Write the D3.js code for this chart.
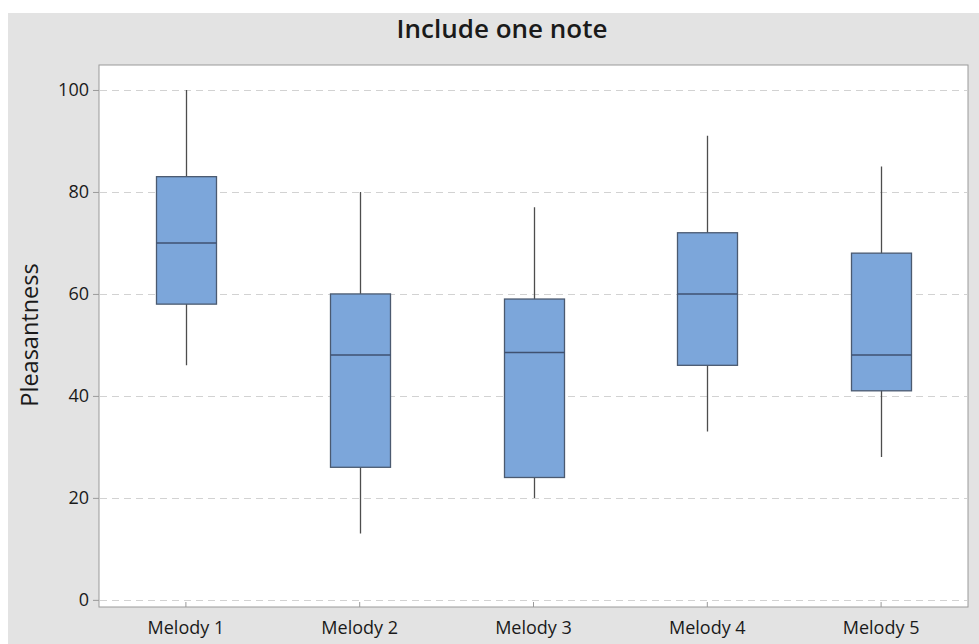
<!DOCTYPE html>
<html lang="en">
<head>
  <meta charset="UTF-8">
  <title>Include one note</title>
  <script src="https://d3js.org/d3.v7.min.js"></script>
  <style>
    body { margin: 0; background: #fff; }
    text { font-family: "Open Sans", "Noto Sans", sans-serif; fill: #1a1a1a; }
  </style>
</head>
<body>
  <div id="chart"></div>

  <script type="text/javascript">

// data
const melodies = ["Melody 1", "Melody 2", "Melody 3", "Melody 4", "Melody 5"];
const whiskerLow  = [46, 13, 20, 33, 28];
const q1          = [58, 26, 24, 46, 41];
const median      = [70, 48, 48.5, 60, 48];
const q3          = [83, 60, 59, 72, 68];
const whiskerHigh = [100, 80, 77, 91, 85];
const yTicks = [0, 20, 40, 60, 80, 100];

const w = 979;
const h = 644;
const margin = {top: 65, right: 11, bottom: 37, left: 99};
const gw = w - margin.left - margin.right;
const gh = h - margin.top - margin.bottom;

const data = melodies.map((m, i) => ({
  name: m, lo: whiskerLow[i], q1: q1[i], med: median[i], q3: q3[i], hi: whiskerHigh[i]
}));

const svg = d3.select("#chart").append("svg")
  .attr("width", w)
  .attr("height", h);

// grey frame
svg.append("rect")
  .attr("x", 8).attr("y", 13)
  .attr("width", w - 8).attr("height", h - 13)
  .attr("fill", "#e3e3e3");

const graph = svg.append("g")
  .attr("transform", `translate(${margin.left},${margin.top})`);

graph.append("rect")
  .attr("width", gw).attr("height", gh)
  .attr("fill", "#fff")
  .attr("stroke", "#9a9a9a");

const y = d3.scaleLinear()
  .domain([-1.4, 104.9])
  .range([gh, 0]);

const x = d3.scaleBand()
  .domain(melodies)
  .range([0, gw]);

const boxW = 60;

// grid
graph.selectAll(".grid")
  .data(yTicks)
  .enter().append("line")
    .attr("class", "grid")
    .attr("x1", 1).attr("x2", gw - 1)
    .attr("y1", d => Math.round(y(d)) + 0.5)
    .attr("y2", d => Math.round(y(d)) + 0.5)
    .attr("stroke", "#d2d2d2")
    .attr("stroke-dasharray", "7,5");

// axes
const yAxis = d3.axisLeft(y).tickValues(yTicks).tickSize(6).tickPadding(4);
const xAxis = d3.axisBottom(x).tickSize(5).tickPadding(9);

const yAxisGroup = graph.append("g").call(yAxis);
const xAxisGroup = graph.append("g")
  .attr("transform", `translate(0,${gh})`)
  .call(xAxis);

[yAxisGroup, xAxisGroup].forEach(g => {
  g.select(".domain").remove();
  g.selectAll("line").attr("stroke", "#9a9a9a");
  g.selectAll("text")
    .attr("font-size", 18)
    .attr("font-weight", 500)
    .attr("fill", "#1a1a1a");
});
xAxisGroup.selectAll("line").attr("transform", "translate(0,-5)");

// boxes
const cx = d => Math.round(x(d.name) + x.bandwidth() / 2) + 0.5;

const boxes = graph.selectAll(".box")
  .data(data)
  .enter().append("g")
    .attr("class", "box");

boxes.append("line")
  .attr("x1", cx).attr("x2", cx)
  .attr("y1", d => y(d.hi)).attr("y2", d => y(d.lo))
  .attr("stroke", "#4d4d4d")
  .attr("stroke-width", 1.3);

boxes.append("rect")
  .attr("x", d => cx(d) - boxW / 2)
  .attr("y", d => y(d.q3))
  .attr("width", boxW)
  .attr("height", d => y(d.q1) - y(d.q3))
  .attr("fill", "#7ca6da")
  .attr("stroke", "#4b5a70")
  .attr("stroke-width", 1.3);

boxes.append("line")
  .attr("x1", d => cx(d) - boxW / 2).attr("x2", d => cx(d) + boxW / 2)
  .attr("y1", d => y(d.med)).attr("y2", d => y(d.med))
  .attr("stroke", "#3f5170")
  .attr("stroke-width", 1.5);

// title and axis label
svg.append("text")
  .attr("x", 502).attr("y", 38)
  .attr("text-anchor", "middle")
  .attr("font-size", 26)
  .attr("font-weight", 600)
  .text("Include one note");

svg.append("text")
  .attr("transform", `translate(38,${335}) rotate(-90)`)
  .attr("text-anchor", "middle")
  .attr("font-size", 23.5)
  .attr("font-weight", 500)
  .text("Pleasantness");

  </script>
</body>
</html>
